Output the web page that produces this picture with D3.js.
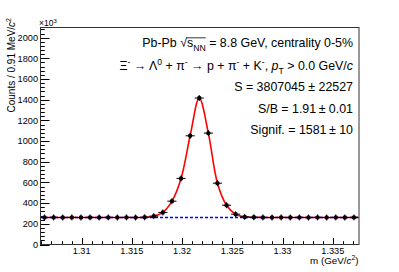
<!DOCTYPE html>
<html>
<head>
<meta charset="utf-8">
<script src="https://cdn.jsdelivr.net/npm/d3@7"></script>
<style>
body { margin: 0; background: #fff; }
text { font-family: "Liberation Sans", Arial, sans-serif; }
</style>
</head>
<body>
<script>

// invariant mass histogram, counts in units of 10^3
var massMin = 1.30586, massMax = 1.33756, nBins = 35
var counts = [261, 262, 261, 262, 261, 262, 261, 262, 261, 262, 261, 263,
              274, 310, 419, 639, 1051, 1416, 1077, 593, 380, 293, 267, 263,
              262, 261, 262, 261, 262, 261, 262, 261, 262, 261, 262]
var background = 261
var xTicks = [1.31, 1.315, 1.32, 1.325, 1.33, 1.335]
var yTicks = [0, 200, 400, 600, 800, 1000, 1200, 1400, 1600, 1800, 2000]
var yMax = 2103

var width = 399, height = 272
var frame = {left: 40, right: 358.5, top: 27, bottom: 244.5}

var svg = d3.select("body").append("svg").attr("width", width).attr("height", height)

var x = d3.scaleLinear().domain([massMin, massMax]).range([frame.left, frame.right])
var y = d3.scaleLinear().domain([0, yMax]).range([frame.bottom, frame.top])
var binW = (massMax - massMin) / nBins

var data = counts.map(function(c, i) { return {m: massMin + (i + 0.5) * binW, c: c} })

// axes, ticks drawn inside the frame
var xMinor = d3.range(1.306, 1.3376, 0.001)
var yMinor = d3.range(0, yMax, 40)

var tickG = svg.append("g").attr("stroke", "#000").attr("stroke-width", 1)
tickG.selectAll(".xmin").data(xMinor).enter().append("line")
.attr("x1", d => Math.round(x(d)) + 0.5).attr("x2", d => Math.round(x(d)) + 0.5)
.attr("y1", frame.bottom).attr("y2", frame.bottom - 3.3)
tickG.selectAll(".xmaj").data(xTicks).enter().append("line")
.attr("x1", d => Math.round(x(d)) + 0.5).attr("x2", d => Math.round(x(d)) + 0.5)
.attr("y1", frame.bottom).attr("y2", frame.bottom - 6.5)
tickG.selectAll(".ymin").data(yMinor).enter().append("line")
.attr("y1", d => Math.round(y(d)) + 0.5).attr("y2", d => Math.round(y(d)) + 0.5)
.attr("x1", frame.left).attr("x2", frame.left + 4.8)
tickG.selectAll(".ymaj").data(yTicks).enter().append("line")
.attr("y1", d => Math.round(y(d)) + 0.5).attr("y2", d => Math.round(y(d)) + 0.5)
.attr("x1", frame.left).attr("x2", frame.left + 9.6)

svg.selectAll(".xlab").data(xTicks).enter().append("text")
.attr("x", d => x(d)).attr("y", 254.3)
.attr("text-anchor", "middle").attr("font-size", "9.2px")
.text(d => d3.format("")(d))

svg.selectAll(".ylab").data(yTicks).enter().append("text")
.attr("x", 38).attr("y", d => y(d) + 3.3)
.attr("text-anchor", "end").attr("font-size", "9.2px")
.text(d => d)

// fit curve and background
var curvePts = [{m: massMin, c: background}].concat(data).concat([{m: massMax, c: background}])
svg.append("path").datum(curvePts)
.attr("fill", "none").attr("stroke", "#ff0000").attr("stroke-width", 1.6)
.attr("d", d3.line().x(d => x(d.m)).y(d => y(d.c)).curve(d3.curveCatmullRom.alpha(0.5)))

svg.append("line")
.attr("x1", frame.left).attr("x2", frame.right)
.attr("y1", y(background)).attr("y2", y(background))
.attr("stroke", "#0000ff").attr("stroke-width", 1.5).attr("stroke-dasharray", "3,2")

// data points with error crosses
var pts = svg.append("g")
pts.selectAll(".eh").data(data).enter().append("line")
.attr("x1", d => x(d.m - binW / 2)).attr("x2", d => x(d.m + binW / 2))
.attr("y1", d => y(d.c)).attr("y2", d => y(d.c))
.attr("stroke", "#000").attr("stroke-width", 1)
pts.selectAll(".ev").data(data).enter().append("line")
.attr("x1", d => x(d.m)).attr("x2", d => x(d.m))
.attr("y1", d => y(d.c) - 3).attr("y2", d => y(d.c) + 3)
.attr("stroke", "#000").attr("stroke-width", 1)
pts.selectAll("circle").data(data).enter().append("circle")
.attr("cx", d => x(d.m)).attr("cy", d => y(d.c)).attr("r", 2.2)
.attr("fill", "#000")

// frame
svg.append("rect")
.attr("x", frame.left + 0.5).attr("y", frame.top + 0.5)
.attr("width", frame.right - frame.left).attr("height", frame.bottom - frame.top - 0.5)
.attr("fill", "none").attr("stroke", "#333").attr("stroke-width", 1)

// rich text helper: segments of [text, style]
function rich(sel, segs, size) {
  var shift = 0
  segs.forEach(function(s) {
    var t = sel.append("tspan").text(s[0])
    var want = 0, fs = size
    if (s[1] && s[1].indexOf("sub") >= 0) { want = size * 0.3; fs = size * 0.7 }
    if (s[1] && s[1].indexOf("sup") >= 0) { want = -size * 0.4; fs = size * 0.7 }
    if (s[1] && s[1].indexOf("it") >= 0) t.attr("font-style", "italic")
    t.attr("font-size", fs + "px").attr("dy", want - shift)
    shift = want
  })
  return sel
}

var fs = 12.4
var l1 = svg.append("text").attr("x", 353).attr("y", 47.3).attr("text-anchor", "end")
rich(l1, [["Pb-Pb "], ["\u221A"], ["s"], ["NN", "sub"], [" = 8.8 GeV, centrality 0-5%"]], fs)
// overline of the root sign
var txt = l1.text()
var node = l1.node()
var iRoot = txt.indexOf("\u221A"), iEnd = txt.indexOf("NN") + 1
var bRoot = node.getExtentOfChar(iRoot), bEnd = node.getExtentOfChar(iEnd)
svg.append("line")
.attr("x1", bRoot.x + bRoot.width - 0.5).attr("x2", bEnd.x + bEnd.width)
.attr("y1", bRoot.y + 1.5).attr("y2", bRoot.y + 1.5)
.attr("stroke", "#000").attr("stroke-width", 0.8)

var l2 = svg.append("text").attr("x", 353).attr("y", 70).attr("text-anchor", "end")
rich(l2, [["\u039E"], ["-", "sup"], [" \u2192 \u039B"], ["0", "sup"], [" + \u03C0"], ["-", "sup"],
          [" \u2192 p + \u03C0"], ["-", "sup"], [" + K"], ["-", "sup"], [", "], ["p", "it"], ["T", "sub"],
          [" > 0.0 GeV/"], ["c", "it"]], fs)

var stats = ["S = 3807045 \u00B1 22527", "S/B = 1.91\u2009\u00B1 0.01", "Signif. = 1581\u2009\u00B1 10"]
var statY = [91.3, 112.5, 133.6]
svg.selectAll(".stat").data(stats).enter().append("text")
.attr("x", 353).attr("y", (d, i) => statY[i]).attr("text-anchor", "end")
.attr("font-size", fs + "px").text(d => d)

// axis titles
var xt = svg.append("text").attr("x", frame.right).attr("y", 264).attr("text-anchor", "end")
rich(xt, [["m (GeV/"], ["c", "it"], ["2", "sup"], [")"]], 9.8)

var yt = svg.append("text").attr("transform", "translate(15,18) rotate(-90)").attr("text-anchor", "end")
rich(yt, [["Counts / 0.91 MeV/"], ["c", "it"], ["2", "sup"]], 10)

var ex = svg.append("text").attr("x", 39).attr("y", 26)
rich(ex, [["\u00D710"], ["3", "sup"]], 8.5)

</script>
</body>
</html>
